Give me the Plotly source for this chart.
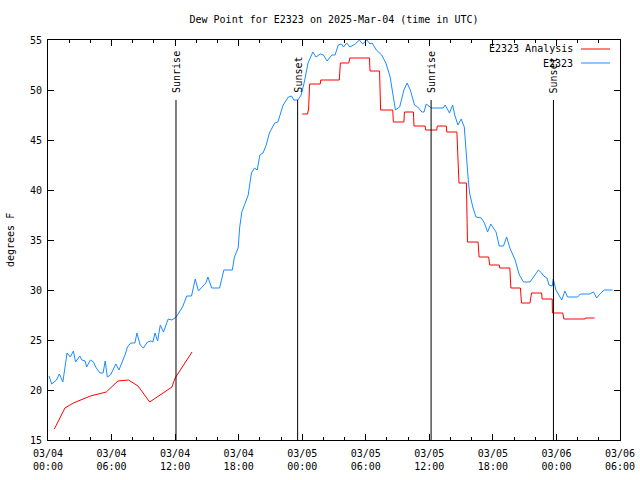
import pandas as pd
import plotly.graph_objects as go

START = "2025-03-04 00:00"

# Blue: observed dew point (hours since 03/04 00:00 UTC, deg F)
obs_hours = [0.1, 0.35, 0.8, 1.07, 1.4, 1.8, 2.1, 2.4, 2.6, 3.0, 3.2, 3.5, 3.65, 4.0, 4.3, 4.5, 4.9, 5.2,
             5.4, 5.6, 5.9, 6.4, 6.7, 6.95, 7.3, 7.5, 7.8, 8.2, 8.4, 8.7, 9.0, 9.4, 9.7, 9.9, 10.1, 10.35,
             10.6, 10.9, 11.35, 11.7, 12.1, 12.7, 13.1, 13.55, 13.9, 14.2, 14.9, 15.1, 15.45, 16.2, 16.6,
             17.4, 17.6, 17.95, 18.1, 18.3, 18.6, 18.9, 19.2, 19.5, 19.75, 20.0, 20.3, 20.6, 20.9, 21.4,
             21.7, 22.2, 22.7, 23.0, 23.2, 23.6, 23.9, 24.2, 24.55, 25.0, 25.3, 25.7, 26.0, 26.35, 26.8,
             27.1, 27.4, 27.7, 27.9, 28.2, 28.5, 29.0, 29.4, 29.7, 30.1, 30.4, 30.6, 31.0, 31.5, 31.9,
             32.3, 32.6, 32.8, 33.2, 33.6, 33.9, 34.2, 34.6, 34.9, 35.3, 35.5, 35.7, 36.2, 37.3, 37.5,
             37.9, 38.2, 38.4, 38.7, 39.0, 39.3, 39.65, 39.8, 40.1, 40.4, 40.9, 41.2, 41.5, 41.8, 42.3,
             42.6, 43.0, 43.3, 43.6, 44.1, 44.5, 44.9, 45.5, 46.0, 46.3, 46.6, 46.8, 47.1, 47.3, 47.6,
             47.7, 47.95, 48.2, 48.5, 48.8, 49.05, 50.0, 50.25, 51.1, 51.5, 51.8, 52.1, 52.5, 53.3]
obs_values = [21.4, 20.6, 21.0, 21.6, 20.8, 23.7, 23.3, 23.9, 22.8, 23.4, 23.0, 22.9, 22.3, 23.0, 22.8, 22.3, 21.7, 21.7,
              22.9, 21.3, 21.5, 22.6, 22.0, 22.6, 23.6, 24.3, 24.7, 24.7, 25.7, 24.5, 24.2, 24.8, 24.9, 24.8, 25.7, 24.9,
              26.5, 25.8, 27.1, 27.0, 27.3, 28.3, 29.4, 29.4, 31.1, 29.9, 30.7, 31.3, 30.2, 30.2, 32.0,
              32.0, 33.3, 34.2, 36.3, 37.8, 38.7, 39.5, 41.7, 42.2, 42.0, 43.5, 43.7, 44.5, 45.7, 46.7,
              46.8, 48.5, 49.3, 49.4, 49.0, 49.0, 49.5, 50.8, 52.7, 53.8, 53.3, 53.6, 53.5, 52.9, 53.5,
              53.5, 54.5, 54.6, 54.3, 54.7, 54.3, 54.6, 55.0, 54.6, 55.0, 54.6, 54.7, 54.0, 53.5, 52.7,
              51.3, 49.0, 48.0, 48.3, 50.0, 50.7, 50.0, 48.5, 48.3, 47.8, 47.8, 48.6, 48.2, 48.2, 48.5,
              47.7, 48.5, 47.5, 46.5, 47.1, 46.3, 41.3, 39.7, 38.3, 37.3, 37.2, 36.7, 35.8, 36.6, 35.8,
              34.4, 34.4, 35.3, 34.2, 33.0, 31.5, 30.8, 30.8, 31.6, 32.0, 31.7, 31.4, 31.2, 30.5, 30.4,
              31.1, 30.0, 29.5, 29.0, 29.9, 29.3, 29.3, 29.6, 29.6, 29.8, 29.2, 29.6, 30.0, 30.0]

# Red: analysis dew point (None = gap)
ana_hours = [0.6, 1.6, 2.4, 3.5, 4.0, 5.5, 6.6, 7.6, 8.5, 9.6, 11.7, 12.0, 13.6, 18.0,
             24.0, 24.5, 24.6, 24.7, 25.7, 25.75, 27.5, 27.6, 28.4, 28.5, 30.35, 30.4, 31.3, 31.4,
             32.55, 32.6, 33.6, 33.65, 34.5, 34.55, 35.6, 35.65, 36.7, 36.75, 37.6, 37.65, 38.6, 38.8,
             39.5, 39.6, 40.6, 40.7, 41.6, 41.7, 42.6, 42.65, 43.6, 43.7, 44.6, 44.7, 45.5, 45.65,
             46.6, 46.65, 47.6, 47.62, 48.6, 48.7, 50.7, 50.75, 51.6]
ana_values = [16.1, 18.2, 18.7, 19.2, 19.4, 19.8, 20.9, 21.0, 20.4, 18.8, 20.3, 21.2, 23.8, None,
              47.6, 47.6, 48.1, 50.6, 50.6, 51.0, 51.0, 52.7, 52.7, 53.2, 53.2, 51.9, 51.9, 48.0,
              48.0, 46.8, 46.8, 47.8, 47.8, 46.4, 46.4, 46.0, 46.0, 46.4, 46.4, 45.8, 45.8, 40.7,
              40.7, 34.8, 34.8, 33.3, 33.3, 32.5, 32.5, 32.2, 32.2, 30.2, 30.2, 28.7, 28.7, 29.7,
              29.7, 29.1, 29.1, 27.7, 27.7, 27.1, 27.1, 27.2, 27.2]

sun_times = ["2025-03-04 12:05", "2025-03-04 23:34", "2025-03-05 12:10", "2025-03-05 23:43"]
sun_labels = ["Sunrise", "Sunset", "Sunrise", "Sunset"]

tick_vals = ["2025-03-04 00:00", "2025-03-04 06:00", "2025-03-04 12:00", "2025-03-04 18:00",
             "2025-03-05 00:00", "2025-03-05 06:00", "2025-03-05 12:00", "2025-03-05 18:00",
             "2025-03-06 00:00", "2025-03-06 06:00"]
tick_text = ["03/04<br>00:00", "03/04<br>06:00", "03/04<br>12:00", "03/04<br>18:00",
             "03/05<br>00:00", "03/05<br>06:00", "03/05<br>12:00", "03/05<br>18:00",
             "03/06<br>00:00", "03/06<br>06:00"]
y_ticks = [15, 20, 25, 30, 35, 40, 45, 50, 55]

base = pd.Timestamp(START)
obs_t = [base + pd.Timedelta(hours=h) for h in obs_hours]
ana_t = [base + pd.Timedelta(hours=h) for h in ana_hours]

FONT = "DejaVu Sans Mono"
RED = "#ff0000"
BLUE = "#1a8cff"

fig = go.Figure()
fig.add_trace(go.Scatter(x=ana_t, y=ana_values, mode="lines", name="E2323 Analysis",
                         line=dict(color=RED, width=1), connectgaps=False, showlegend=False))
fig.add_trace(go.Scatter(x=obs_t, y=obs_values, mode="lines", name="E2323",
                         line=dict(color=BLUE, width=1), showlegend=False))

for t, lab in zip(sun_times, sun_labels):
    fig.add_shape(type="line", xref="x", yref="y", x0=t, x1=t, y0=15, y1=49,
                  line=dict(color="black", width=1))
    fig.add_annotation(x=t, y=49.5, xref="x", yref="y", text=lab, textangle=-90,
                       showarrow=False, xanchor="center", yanchor="bottom",
                       font=dict(family=FONT, size=10, color="black"))

# legend (gnuplot style: text then line sample)
for i, (lab, col) in enumerate([("E2323 Analysis", RED), ("E2323", BLUE)]):
    yp = 1 - (9 + 14 * i) / 400
    fig.add_annotation(x=(575 - 48) / 572, y=yp, xref="paper", yref="paper", text=lab,
                       showarrow=False, xanchor="right", yanchor="middle",
                       font=dict(family=FONT, size=10, color="black"))
    fig.add_shape(type="line", xref="paper", yref="paper",
                  x0=(581 - 48) / 572, x1=(610 - 48) / 572, y0=yp, y1=yp,
                  line=dict(color=col, width=1))

fig.add_annotation(x=(10 - 48) / 572, y=0.5, xref="paper", yref="paper", text="degrees F",
                   textangle=-90, showarrow=False, xanchor="center", yanchor="middle",
                   font=dict(family=FONT, size=10, color="black"))

fig.update_layout(
    width=640, height=480,
    margin=dict(l=48, r=20, t=40, b=40, autoexpand=False),
    paper_bgcolor="white", plot_bgcolor="white",
    font=dict(family=FONT, size=10, color="black"),
    title=dict(text="Dew Point for E2323 on 2025-Mar-04 (time in UTC)", x=0.5, xref="paper",
               y=1 - 19 / 480, yref="container", xanchor="center", yanchor="middle",
               font=dict(family=FONT, size=10, color="black")),
)
fig.update_xaxes(type="date", range=["2025-03-04 00:00", "2025-03-06 06:00"], automargin=False,
                 tickvals=tick_vals, ticktext=tick_text, ticks="inside", ticklen=6,
                 tickcolor="black", showline=True, linecolor="black", linewidth=1,
                 mirror="ticks", showgrid=False, zeroline=False, ticklabelstandoff=4,
                 minor=dict(ticks="inside", dtick=2 * 3600 * 1000, ticklen=3, tickcolor="black",
                            showgrid=False),
                 tickfont=dict(family=FONT, size=10, color="black"))
fig.update_yaxes(range=[15, 55], tickvals=y_ticks, ticks="inside", ticklen=6, tickcolor="black",
                 showline=True, linecolor="black", linewidth=1, mirror="ticks", automargin=False,
                 showgrid=False, zeroline=False, ticklabelstandoff=3,
                 tickfont=dict(family=FONT, size=10, color="black"))

fig.write_html("out.html")
